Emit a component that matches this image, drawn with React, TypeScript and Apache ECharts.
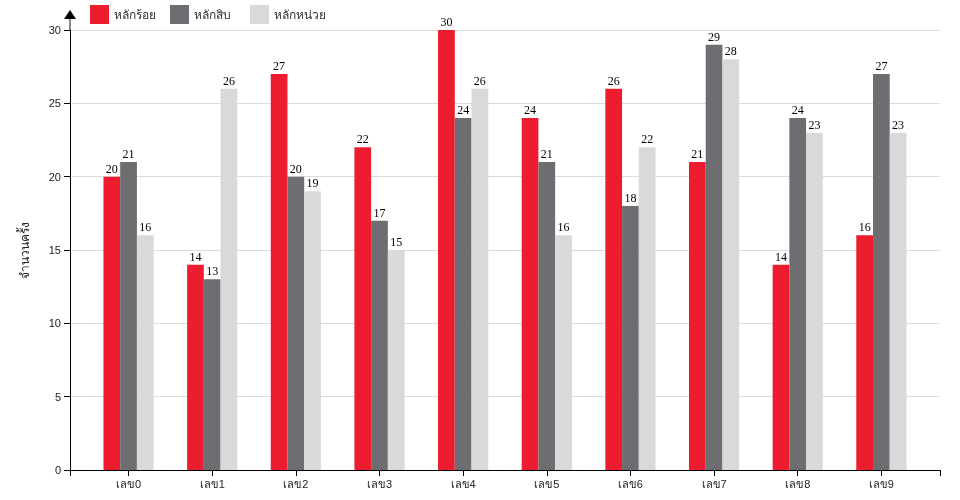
import React, { useEffect, useRef } from "react";
import * as echarts from "echarts";

const categories = ["เลข0", "เลข1", "เลข2", "เลข3", "เลข4", "เลข5", "เลข6", "เลข7", "เลข8", "เลข9"];
const seriesNames = ["หลักร้อย", "หลักสิบ", "หลักหน่วย"];
const hundreds = [20, 14, 27, 22, 30, 24, 26, 21, 14, 16];
const tens = [21, 13, 20, 17, 24, 21, 18, 29, 24, 27];
const units = [16, 26, 19, 15, 26, 16, 22, 28, 23, 23];
const colors = ["#ED1C2E", "#6D6E71", "#D9D9D9"];
const yTitle = "จำนวนครั้ง";

export default function App() {
  const ref = useRef<HTMLDivElement>(null);
  useEffect(() => {
    if (!ref.current) return;
    const chart = echarts.init(ref.current, undefined, { renderer: "svg" });
    const values = [hundreds, tens, units];
    const labelFont = "sans-serif";
    chart.setOption({
      animation: false,
      color: colors,
      legend: seriesNames.map((name, i) => ({
        left: 85 + i * 80,
        top: 0,
        itemWidth: 19,
        itemHeight: 19,
        icon: "rect",
        textStyle: { fontSize: 12, color: "#333", fontFamily: labelFont },
        data: [name],
      })),
      grid: [
        { left: 70, right: 20, top: 30, bottom: 30 },
        { left: 86.73, right: 36.8, top: 30, bottom: 30 },
      ],
      xAxis: [
        {
          gridIndex: 0,
          type: "value",
          min: 0,
          max: 1,
          interval: 1,
          axisLine: { show: true, lineStyle: { color: "#000", width: 1 } },
          axisTick: { show: true, length: 6, lineStyle: { color: "#000" } },
          axisLabel: { show: false },
          splitLine: { show: false },
        },
        {
          gridIndex: 1,
          type: "category",
          data: categories,
          axisLine: { show: false },
          axisTick: { show: true, alignWithLabel: true, length: 6, lineStyle: { color: "#000" } },
          axisLabel: { fontSize: 11, color: "#222", margin: 8, fontFamily: labelFont },
        },
      ],
      yAxis: [
        {
          gridIndex: 0,
          type: "value",
          min: 0,
          max: 30,
          interval: 5,
          name: yTitle,
          nameLocation: "middle",
          nameRotate: 90,
          nameGap: 39,
          nameTextStyle: { fontSize: 12, color: "#222", fontFamily: labelFont },
          axisLine: { show: true, lineStyle: { color: "#000", width: 1 } },
          axisTick: { show: true, length: 6, lineStyle: { color: "#000" } },
          axisLabel: { fontSize: 11, color: "#222", margin: 9, fontFamily: labelFont },
          splitLine: { show: true, lineStyle: { color: "#dcdcdc", width: 1 } },
        },
        {
          gridIndex: 1,
          type: "value",
          min: 0,
          max: 30,
          show: false,
          splitLine: { show: false },
        },
      ],
      series: seriesNames.map((name, i) => ({
        name,
        type: "bar",
        xAxisIndex: 1,
        yAxisIndex: 1,
        data: values[i],
        barWidth: 16.73,
        barGap: "0%",
        itemStyle: { color: colors[i] },
        label: {
          show: true,
          position: "top",
          distance: 2,
          fontSize: 12,
          color: "#000",
          fontFamily: "'Liberation Serif', 'DejaVu Serif', serif",
        },
      })),
      graphic: [
        {
          type: "line",
          shape: { x1: 70, y1: 30, x2: 70, y2: 18 },
          style: { stroke: "#888", lineWidth: 2 },
          silent: true,
        },
        {
          type: "polygon",
          shape: { points: [[64, 19], [76, 19], [70, 10]] },
          style: { fill: "#000" },
          silent: true,
        },
      ],
    });
    return () => chart.dispose();
  }, []);
  return (
    <div
      ref={ref}
      style={{ position: "fixed", left: 0, top: 0, width: 960, height: 500 }}
    />
  );
}
